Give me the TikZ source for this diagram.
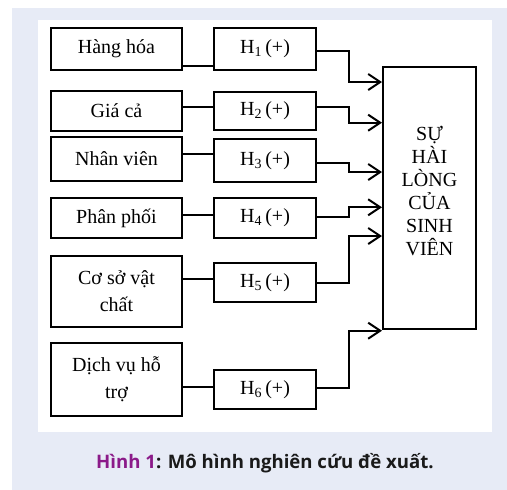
\documentclass[tikz,border=0pt]{standalone}
\usepackage{fontspec}
\setmainfont{Liberation Serif}
\newfontfamily\capfont{Open Sans}
\usetikzlibrary{arrows.meta}
\definecolor{pagebg}{HTML}{E7EBF6}
\definecolor{figpurple}{HTML}{8B1A89}
\definecolor{captext}{HTML}{1A1A1A}

\begin{document}
\begin{tikzpicture}[x=1pt,y=-1pt,line width=2pt]
    %
    % `factor' is used for the six left boxes.
    % `hypo' is used for the hypothesis boxes H1..H6.
    % `goal' is used for the big box on the right.
    \tikzstyle{factor} = [draw,fill=white,minimum width=131,inner sep=2pt,align=center,font=\fontsize{20}{27}\selectfont]
    \tikzstyle{hypo} = [draw,fill=white,minimum width=102,inner sep=2pt,font=\fontsize{20}{24}\selectfont]
    \tikzstyle{goal} = [draw,fill=white,minimum width=93,minimum height=262,inner sep=0pt]
    \tikzstyle{link} = [-{Straight Barb[length=12pt,width=16pt,line width=2pt]}]
    %
    % Background and panel
    \useasboundingbox (0,0) rectangle (507,490);
    \fill[pagebg] (12,8) rectangle (507,490);
    \fill[white] (38,20) rectangle (492,432);
    %
    % Factors
    \node[factor,minimum height=42] (f1) at (116.5,49) {Hàng hóa};
    \node[factor,minimum height=40] (f2) at (116.5,111) {Giá cả};
    \node[factor,minimum height=44] (f3) at (116.5,159) {Nhân viên};
    \node[factor,minimum height=40] (f4) at (116.5,218) {Phân phối};
    \node[factor,minimum height=71] (f5) at (116.5,291.5) {Cơ sở vật\\chất};
    \node[factor,minimum height=73] (f6) at (116.5,379.5) {Dịch vụ hỗ\\trợ};
    %
    % Hypotheses
    \node[hypo,minimum height=42] (h1) at (265,49) {H\textsubscript{1}\,(+)};
    \node[hypo,minimum height=38] (h2) at (265,111) {H\textsubscript{2}\,(+)};
    \node[hypo,minimum height=43] (h3) at (265,160.5) {H\textsubscript{3}\,(+)};
    \node[hypo,minimum height=40] (h4) at (265,218) {H\textsubscript{4}\,(+)};
    \node[hypo,minimum height=39] (h5) at (265,282.5) {H\textsubscript{5}\,(+)};
    \node[hypo,minimum height=39] (h6) at (265,389.5) {H\textsubscript{6}\,(+)};
    %
    % Outcome
    \node[goal] (sat) at (429.5,198) {};
    \node[align=center,font=\fontsize{20}{23}\selectfont] (satlabel) at (sat.center |- 0,191)
        {SỰ\\HÀI\\LÒNG\\CỦA\\SINH\\VIÊN};
    %
    % Factor -- hypothesis
    \draw (f1.east |- 0,65.7) -- (h1.west |- 0,65.7);
    \draw (f2.east |- 0,107.3) -- (h2.west |- 0,107.3);
    \draw (f3.east |- 0,154) -- (h3.west |- 0,154);
    \draw (f4.east |- 0,214.7) -- (h4.west |- 0,214.7);
    \draw (f5.east |- 0,279.3) -- (h5.west |- 0,279.3);
    \draw (f6.east |- 0,386.7) -- (h6.west |- 0,386.7);
    %
    % Hypothesis -> outcome
    \draw[link] (h1.east |- 0,50.7) -| (349.3,82) -- (sat.west |- 0,82);
    \draw[link] (h2.east |- 0,107.3) -| (349.3,122.7) -- (sat.west |- 0,122.7);
    \draw[link] (h3.east |- 0,162.7) -| (349.3,172) -- (sat.west |- 0,172);
    \draw[link] (h4.east |- 0,217.3) -| (349.3,207.3) -- (sat.west |- 0,207.3);
    \draw[link] (h5.east |- 0,282.7) -| (349.3,236) -- (sat.west |- 0,236);
    \draw[link] (h6.east |- 0,387.7) -| (349.3,330.7) -- (sat.west |- 0,330.7);
    %
    % Caption
    \node[font=\capfont\bfseries\fontsize{18.6}{22}\selectfont,text=captext,anchor=base] (cap) at (265,468)
        {\textcolor{figpurple}{Hình 1}: Mô hình nghiên cứu đề xuất.};
    %
\end{tikzpicture}
\end{document}
